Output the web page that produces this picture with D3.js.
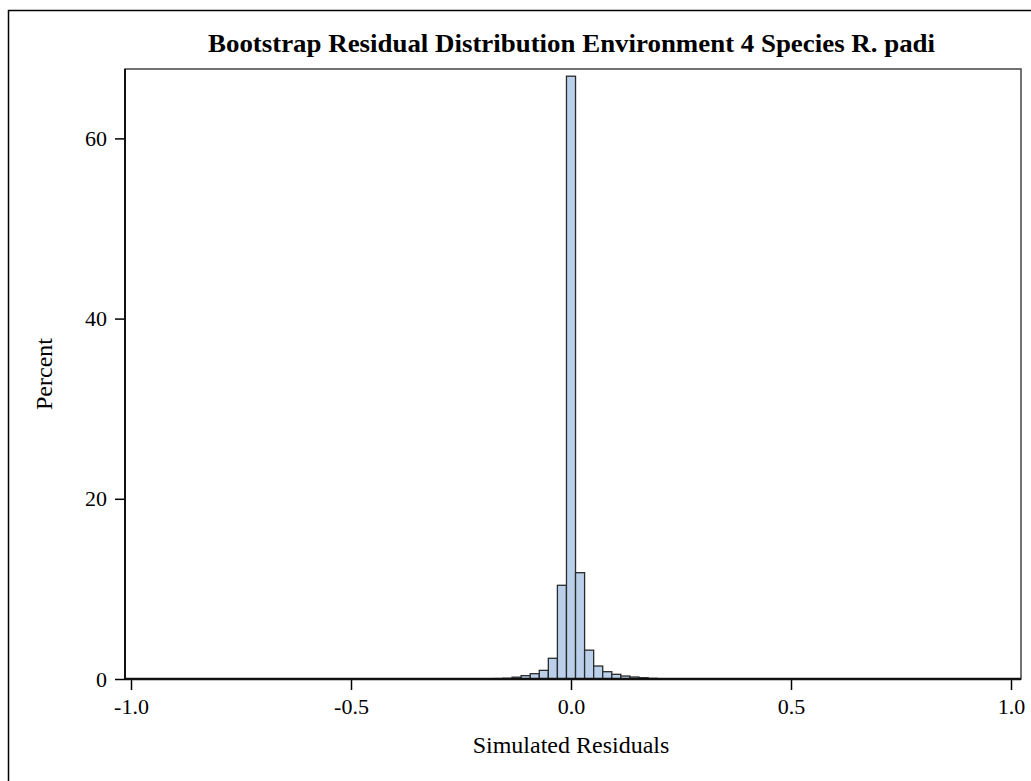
<!DOCTYPE html>
<html><head><meta charset="utf-8">
<script src="https://cdn.jsdelivr.net/npm/d3@7"></script>
<style>body{margin:0;background:#fff}svg{display:block}</style>
</head><body>
<script>
const title = "Bootstrap Residual Distribution Environment 4 Species R. padi";
const xLabel = "Simulated Residuals";
const yLabel = "Percent";
const binWidth = 0.0206;
const binIndex = [-9,-8,-7,-6,-5,-4,-3,-2,-1,0,1,2,3,4,5,6,7,8,9];
const percent  = [0.03,0.05,0.08,0.2,0.37,0.59,0.96,2.3,10.4,66.9,11.8,3.2,1.44,0.81,0.52,0.33,0.22,0.14,0.07];
const xTicks = [-1.0,-0.5,0.0,0.5,1.0];
const yTicks = [0,20,40,60];

const W=1031,H=781;
const svg=d3.select("body").append("svg").attr("width",W).attr("height",H);
svg.append("rect").attr("x",8.5).attr("y",10.5).attr("width",1040).attr("height",800)
  .attr("fill","none").attr("stroke","#000").attr("stroke-width",1.5);

const L=125,T=69,R=1021,B=679;
const x=d3.scaleLinear().domain([-1,1]).range([131,1011]);
const y=d3.scaleLinear().domain([0,67.7]).range([B,T]);

const font="'Liberation Serif','Times New Roman',serif";

svg.append("text").attr("x",571.5).attr("y",52).attr("text-anchor","middle")
  .attr("font-family",font).attr("font-weight","bold").attr("font-size",25)
  .attr("textLength",727).attr("lengthAdjust","spacingAndGlyphs").text(title);

// frame
svg.append("rect").attr("x",L).attr("y",T).attr("width",R-L).attr("height",B-T)
  .attr("fill","none").attr("stroke","#444").attr("stroke-width",1.5);

// bars
svg.append("g").selectAll("rect").data(binIndex).join("rect")
  .attr("x",(k)=>x(k*binWidth-binWidth/2))
  .attr("width",(k)=>x(k*binWidth+binWidth/2)-x(k*binWidth-binWidth/2))
  .attr("y",(k,i)=>y(percent[i]))
  .attr("height",(k,i)=>B-y(percent[i]))
  .attr("fill","#B9CFEA").attr("stroke","#2b2b2b").attr("stroke-width",1.3);

// axes
const xa=svg.append("g").attr("transform",`translate(0,${B})`)
  .call(d3.axisBottom(x).tickValues(xTicks).tickSize(11).tickPadding(8).tickSizeOuter(0));
const ya=svg.append("g").attr("transform",`translate(${L},0)`)
  .call(d3.axisLeft(y).tickValues(yTicks).tickSize(10).tickPadding(8).tickSizeOuter(0));
[xa,ya].forEach(g=>{
  g.select(".domain").remove();
  g.selectAll("line").attr("stroke","#000").attr("stroke-width",1.5);
  g.selectAll("text").attr("font-family",font).attr("font-size",22).attr("fill","#000");
});
xa.selectAll("text").text(d=>d.toFixed(1).replace("\u2212","-"));
svg.append("line").attr("x1",L).attr("x2",R).attr("y1",B).attr("y2",B).attr("stroke","#111").attr("stroke-width",2.5);
svg.append("line").attr("x1",L).attr("x2",L).attr("y1",T).attr("y2",B).attr("stroke","#111").attr("stroke-width",2);

svg.append("text").attr("x",571).attr("y",753).attr("text-anchor","middle")
  .attr("font-family",font).attr("font-size",24).text(xLabel);
svg.append("text").attr("transform","translate(52,374) rotate(-90)").attr("text-anchor","middle")
  .attr("font-family",font).attr("font-size",24).text(yLabel);
</script>
</body></html>
